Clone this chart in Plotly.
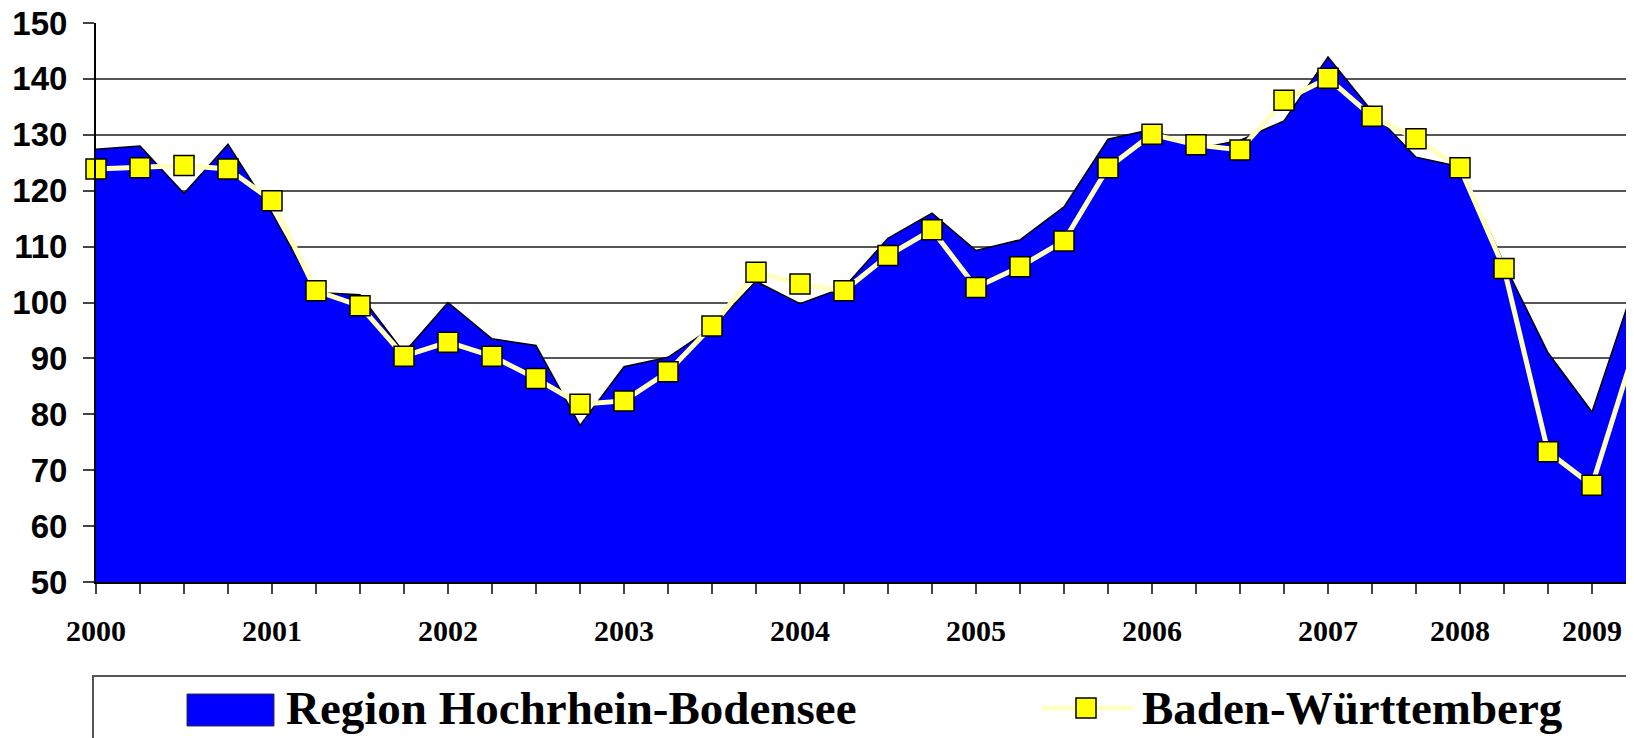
# Region Hochrhein-Bodensee vs Baden-Wuerttemberg, quarterly index
import plotly.graph_objects as go

quarter = list(range(36))

region = [127.4, 128.0, 119.5, 128.3, 116.0, 101.8, 101.4, 91.0, 100.0, 93.5,
          92.3, 78.0, 88.5, 90.2, 95.5, 103.8, 99.8, 102.7, 111.5, 116.0,
          109.3, 111.2, 117.1, 129.2, 131.0, 127.5, 129.0, 132.5, 143.9, 134.2,
          126.0, 124.3, 107.0, 91.0, 80.4, 104.0]

bw = [123.9, 124.1, 124.5, 123.9, 118.2, 102.1, 99.4, 90.4, 92.9, 90.4,
      86.4, 81.8, 82.4, 87.6, 95.8, 105.4, 103.3, 102.1, 108.4, 113.0,
      102.7, 106.4, 111.0, 124.1, 130.1, 128.2, 127.3, 136.2, 140.1, 133.3,
      129.3, 124.1, 106.1, 73.3, 67.3, 92.4]

year_labels = ["2000", "2001", "2002", "2003", "2004",
               "2005", "2006", "2007", "2008", "2009"]
year_pos = [0, 4, 8, 12, 16, 20, 24, 28, 31, 34]

tick_vals = list(range(35))
tick_text = [""] * 35
for p, lab in zip(year_pos, year_labels):
    tick_text[p] = lab

# page has an 8px body margin, so the figure is a bit smaller than the window
OFF = 8
W, H = 1634 - OFF, 738 - OFF
L, R, T, B = 88, 0, 15, 156

serif = dict(family="Liberation Serif", color="black", weight="bold")

fig = go.Figure()
fig.add_trace(go.Scatter(x=quarter, y=region, mode="lines", fill="tozeroy",
                         fillcolor="#0000FF", line=dict(color="black", width=1.5),
                         name="Region Hochrhein-Bodensee", showlegend=False))
fig.add_trace(go.Scatter(x=quarter, y=bw, mode="lines+markers",
                         line=dict(color="#FFFFC0", width=5), cliponaxis=False,
                         marker=dict(symbol="square", size=20, color="#FFFF00",
                                     line=dict(color="black", width=1.5)),
                         name="Baden-Württemberg", showlegend=False))


# legend drawn by hand (page pixel -> paper helpers)
def px(x):
    return (x - OFF - L) / (W - L - R)


def py(y):
    return (H - B - (y - OFF)) / (H - T - B)


shapes = [
    dict(type="rect", xref="paper", yref="paper", x0=px(93), x1=px(1700),
         y0=py(676), y1=py(800), line=dict(color="#555555", width=2),
         fillcolor="white", layer="above"),
    dict(type="rect", xref="paper", yref="paper", x0=px(187), x1=px(274),
         y0=py(694), y1=py(726), line=dict(color="#333333", width=1),
         fillcolor="#0000FF", layer="above"),
    dict(type="line", xref="paper", yref="paper", x0=px(1042), x1=px(1133),
         y0=py(708), y1=py(708), line=dict(color="#FFFFC0", width=5),
         layer="above"),
    dict(type="rect", xref="paper", yref="paper", x0=px(1076), x1=px(1096),
         y0=py(698), y1=py(718), line=dict(color="black", width=1.5),
         fillcolor="#FFFF00", layer="above"),
]
annotations = [
    dict(xref="paper", yref="paper", x=px(284), y=py(708), xanchor="left",
         yanchor="middle", text="Region Hochrhein-Bodensee", showarrow=False,
         font=dict(size=47, **serif)),
    dict(xref="paper", yref="paper", x=px(1140), y=py(708), xanchor="left",
         yanchor="middle", text="Baden-Württemberg", showarrow=False,
         font=dict(size=47, **serif)),
]

fig.update_layout(
    width=W, height=H,
    margin=dict(l=L, r=R, t=T, b=B),
    paper_bgcolor="white", plot_bgcolor="white",
    showlegend=False,
    shapes=shapes, annotations=annotations,
    xaxis=dict(range=[0, (W - L - R) / 44.0], tickmode="array",
               tickvals=tick_vals, ticktext=tick_text, automargin=False,
               ticks="outside", ticklen=10, tickwidth=2, tickcolor="#444444",
               showgrid=False, zeroline=False,
               showline=True, linecolor="black", linewidth=2,
               tickfont=dict(size=30, **serif), ticklabelstandoff=11),
    yaxis=dict(range=[50, 150], dtick=10, ticks="outside", ticklen=11,
               tickwidth=2, tickcolor="#444444", automargin=False,
               ticklabeloverflow="allow",
               showgrid=True, gridcolor="#555555", gridwidth=2,
               zeroline=False, showline=True, linecolor="black", linewidth=2,
               tickfont=dict(family="Liberation Sans", size=33, color="black",
                             weight="bold"),
               ticklabelstandoff=9),
)

fig.write_html("out.html")
